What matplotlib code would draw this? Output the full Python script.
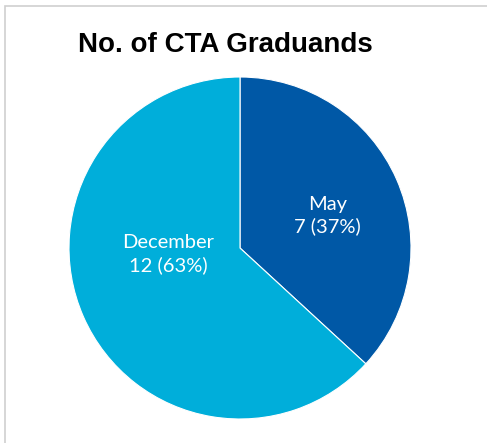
import matplotlib
matplotlib.use("Agg")
import matplotlib.pyplot as plt
from matplotlib.patches import Rectangle

categories = ["May", "December"]
values = [7, 12]
colors = ["#0058A6", "#00AEDA"]

fig = plt.figure(figsize=(4.87, 4.43), dpi=100)
fig.patch.set_facecolor("white")

# border
fig.add_artist(Rectangle((5/487, -0.1), 1.2, 1 - 6/443 + 0.1, transform=fig.transFigure,
                         fill=False, edgecolor="#cfcfcf", linewidth=1.2))

ax = fig.add_axes([69/487, 24/443, 342/487, 342/443])
total = sum(values)
wedges, _ = ax.pie(values, colors=colors, startangle=90, counterclock=False,
                   wedgeprops=dict(edgecolor="white", linewidth=0.8))
ax.set_xlim(-1, 1)
ax.set_ylim(-1, 1)
ax.set_aspect("equal")

label_pos = [(0.51, 0.19), (-0.42, -0.035)]
for name, v, (x, y) in zip(categories, values, label_pos):
    pct = round(100 * v / total)
    ax.text(x, y, f"{name}\n{v} ({pct}%)", ha="center", va="center", color="white",
            fontsize=14.5, family="Lato", fontweight="normal", linespacing=1.3)

fig.text(225/487, 1 - 45/443, "No. of CTA Graduands", ha="center", va="center",
         fontsize=20, fontweight="bold", family="Liberation Sans", color="black")

fig.savefig("out.png", dpi=100)
